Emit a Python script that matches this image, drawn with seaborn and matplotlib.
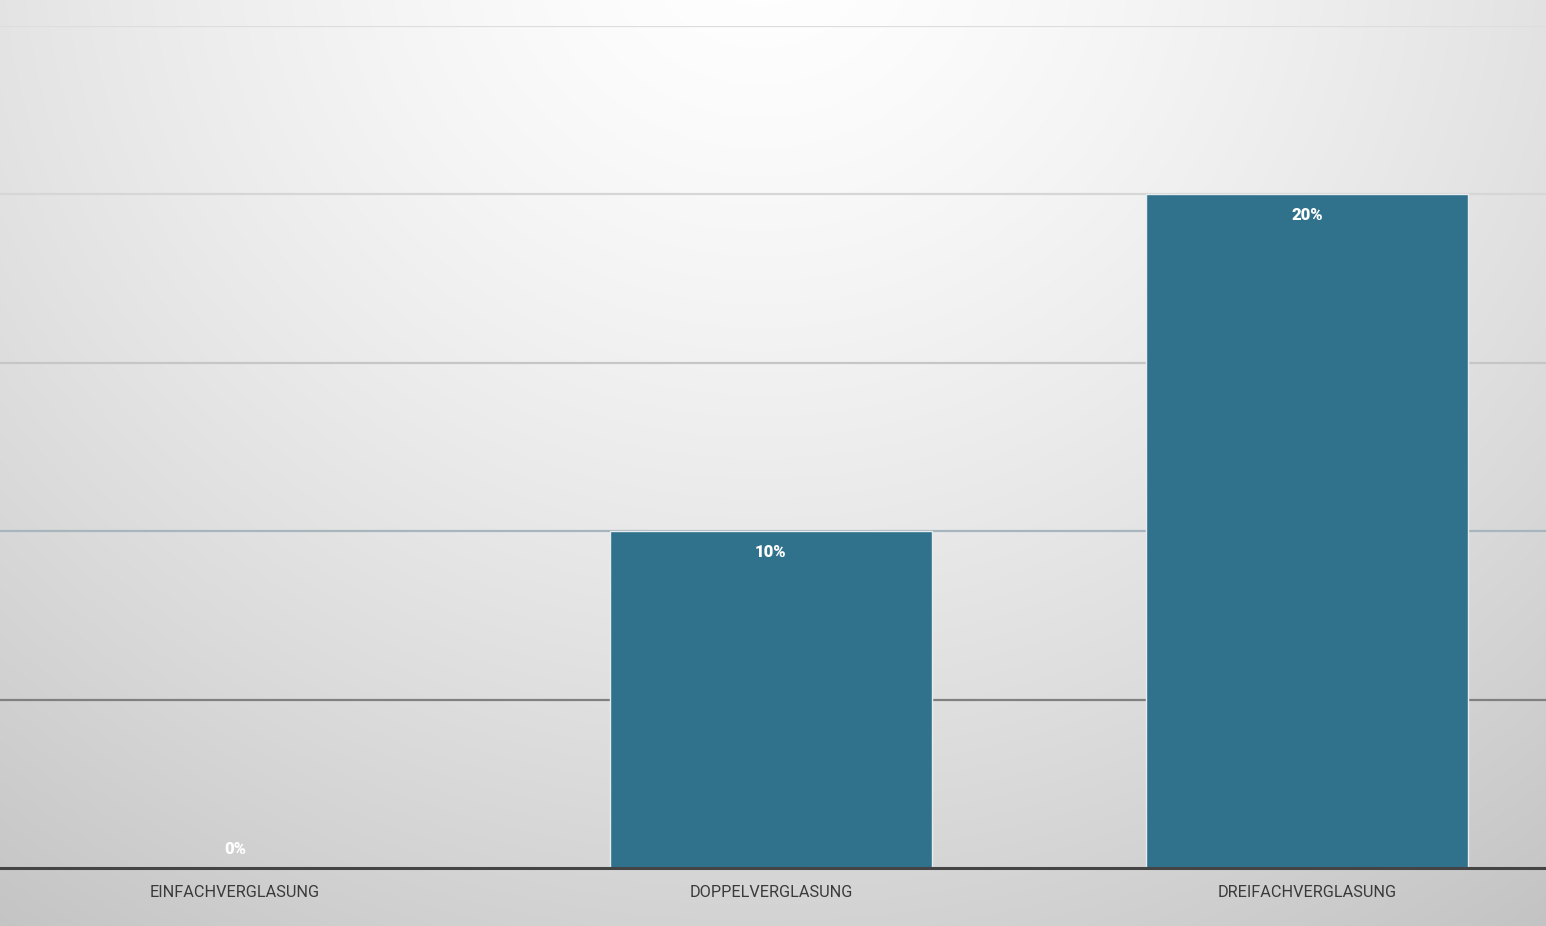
import numpy as np
import pandas as pd
import matplotlib
matplotlib.use("Agg")
import matplotlib.pyplot as plt
import seaborn as sns

categories = ["EINFACHVERGLASUNG", "DOPPELVERGLASUNG", "DREIFACHVERGLASUNG"]
values = [0, 10, 20]
value_labels = ["0%", "10%", "20%"]
y_ticks = [0, 5, 10, 15, 20, 25]

sns.set_theme(style="white")
plt.rcParams['font.family'] = ['Roboto', 'DejaVu Sans']

W, H = 1546, 926
fig = plt.figure(figsize=(W / 100, H / 100), dpi=100)

# background radial gradient
bg = fig.add_axes([0, 0, 1, 1], zorder=0)
yy, xx = np.mgrid[0:H, 0:W]
d = np.sqrt(((xx - 760) / 1150.0) ** 2 + ((yy + 60) / 1050.0) ** 2)
d = np.clip(d, 0, 1.2)
g = 1.0 - 0.19 * d ** 1.4
img = np.dstack([g, g, g])
bg.imshow(img, aspect="auto", extent=[0, W, H, 0])
bg.set_axis_off()

ax = fig.add_axes([0, (H - 868) / H, 1, (868 - 26) / H], zorder=1)
ax.patch.set_alpha(0)
df = pd.DataFrame({"cat": categories, "val": values})

grid_colors = {5: "#808080", 10: "#a7b6bd", 15: "#c6c6c6", 20: "#d6d6d6", 25: "#dddddd"}
for t in y_ticks[1:]:
    ax.axhline(t, color=grid_colors[t], lw=1.6, zorder=0)

sns.barplot(data=df, x="cat", y="val", color="#30728c", width=0.6, saturation=1,
            edgecolor="#e8ecee", linewidth=1.0, ax=ax, zorder=2)

ax.set_xlim(-0.438, 2.446)
ax.set_ylim(0, 25)
ax.set_yticks([])
ax.set_xlabel("")
ax.set_ylabel("")
for s in ["top", "left", "right"]:
    ax.spines[s].set_visible(False)
ax.spines["bottom"].set_color("#444444")
ax.spines["bottom"].set_linewidth(2.2)
ax.spines["bottom"].set_zorder(5)
ax.tick_params(axis="x", length=0, pad=12, labelsize=11.7, labelcolor="#3a3a3a")

for i, (v, lab) in enumerate(zip(values, value_labels)):
    off = -21 if v > 0 else 19
    ax.annotate(lab, (i, v), xytext=(0, off), textcoords="offset pixels",
                ha="center", va="center", color="white", fontweight="black",
                fontsize=12, zorder=6)

fig.savefig("out.png", dpi=100)
